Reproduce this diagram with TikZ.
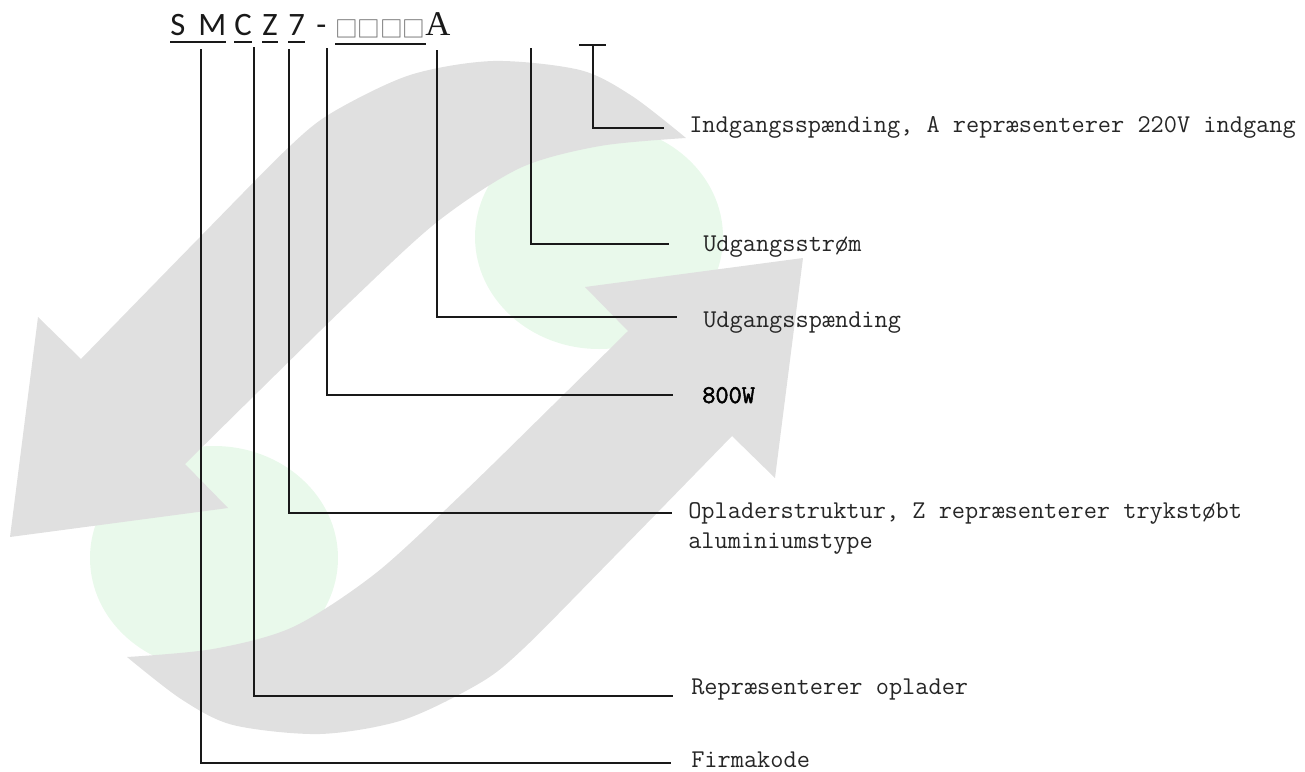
\documentclass[tikz,border=0pt]{standalone}
\usepackage{fontspec}
\newfontfamily\titlefont{Carlito}
\newfontfamily\boxfont{Noto Sans CJK SC}
\newfontfamily\serfont{Liberation Serif}
\newfontfamily\powfont[FakeBold=2]{Latin Modern Mono}
\usetikzlibrary{positioning}
\definecolor{arrowgray}{RGB}{224,224,224}
\definecolor{blobgreen}{RGB}{233,249,235}
\newcommand{\cyclearrow}{%
  \fill[band] plot[smooth] coordinates {(686,138) (632,96) (580,70) (493,61) (410,75) (333,112) (289,147) (200,237) (81,359)}
    -- (38,317) -- (10,537) -- (228,508) -- (185,464)
    -- plot[smooth] coordinates {(185,464) (260,390) (350,302) (437,222) (520,168) (600,146) (686,138)} -- cycle;}

\begin{document}
\begin{tikzpicture}
  [x=0.75pt, y=-0.75pt,
   band/.style={fill=arrowgray},
   blob/.style={fill=blobgreen},
   letter/.style={inner sep=0pt, anchor=base west, text=black!90,
     font=\titlefont\fontsize{24.5}{28}\selectfont},
   uline/.style={line width=1.9pt, black!90},
   leader/.style={line width=0.8pt, black!90},
   lab/.style={inner sep=0pt, anchor=base west, align=left, text=black!85,
     font=\ttfamily\fontsize{19.2}{22.5}\selectfont}]
  \useasboundingbox (0,0) rectangle (1305,771);

  \fill[blob] (214,558) ellipse [x radius=93pt, y radius=84pt];
  \fill[blob] (599,237) ellipse [x radius=93pt, y radius=84pt];
  \cyclearrow
  \begin{scope}[rotate around={180:(406.5,397.5)}]
    \cyclearrow
  \end{scope}

  \node[letter] (tS) at (170,36) {S};
  \node[letter] (tM) at (198,36) {M};
  \node[letter] (tC) at (234,36) {C};
  \node[letter] (tZ) at (262,36) {Z};
  \node[letter] (t7) at (288,36) {7};
  \node[letter] (tdash) at (316,36) {-};
  \foreach \i in {1,...,4}
    \node[letter, text=black!60, font=\boxfont\fontsize{17}{20}\selectfont] (tbox\i) at (312.5+22.5*\i,37) {□};
  \node[letter, font=\serfont\fontsize{26}{30}\selectfont] (tA) at (425,36) {A};

  \draw[uline] ([yshift=-4.5pt]tS.base west) -- ([yshift=-4.5pt]tM.base east);
  \draw[uline] ([yshift=-4.5pt]tC.base west) -- ([yshift=-4.5pt]tC.base east);
  \draw[uline] ([yshift=-4.5pt]tZ.base west) -- ([yshift=-4.5pt]tZ.base east);
  \draw[uline] ([yshift=-4.5pt]t7.base west) -- ([yshift=-4.5pt]t7.base east);
  \draw[uline] ([yshift=-5.25pt]tbox1.base west) -- ([yshift=-5.25pt]tbox4.base east);

  \coordinate (bin1) at (579,45);
  \coordinate (bin2) at (606,45);
  \coordinate (sin) at (593,45);
  \coordinate (ein) at (664,128);
  \coordinate (sstr) at (531,48);
  \coordinate (estr) at (669,244);
  \coordinate (sspn) at (437,50);
  \coordinate (espn) at (677,317);
  \coordinate (spow) at (327,48);
  \coordinate (epow) at (673,395);
  \coordinate (sstru) at (289,49);
  \coordinate (estru) at (672,513);
  \coordinate (sopl) at (254,47);
  \coordinate (eopl) at (673,696);
  \coordinate (sfirm) at (201,49);
  \coordinate (efirm) at (671,763);

  \draw[leader] (bin1) -- (bin2) (sin) |- (ein);
  \draw[leader] (sstr) |- (estr);
  \draw[leader] (sspn) |- (espn);
  \draw[leader] (spow) |- (epow);
  \draw[leader] (sstru) |- (estru);
  \draw[leader] (sopl) |- (eopl);
  \draw[leader] (sfirm) |- (efirm);

  \node[lab] (lin) at (689,132) {Indgangsspænding, A repræsenterer 220V indgang};
  \node[lab] (lstr) at (703,251) {Udgangsstrøm};
  \node[lab] (lspn) at (703,327) {Udgangsspænding};
  \node[lab, text=black, font=\powfont\fontsize{19.2}{22.5}\selectfont] (lpow) at (702,403) {800W};
  \node[lab] (lstru) at (688,548) {Opladerstruktur, Z repræsenterer trykstøbt\\aluminiumstype};
  \node[lab] (lopl) at (691,694) {Repræsenterer oplader};
  \node[lab] (lfirm) at (691,767) {Firmakode};
\end{tikzpicture}
\end{document}
